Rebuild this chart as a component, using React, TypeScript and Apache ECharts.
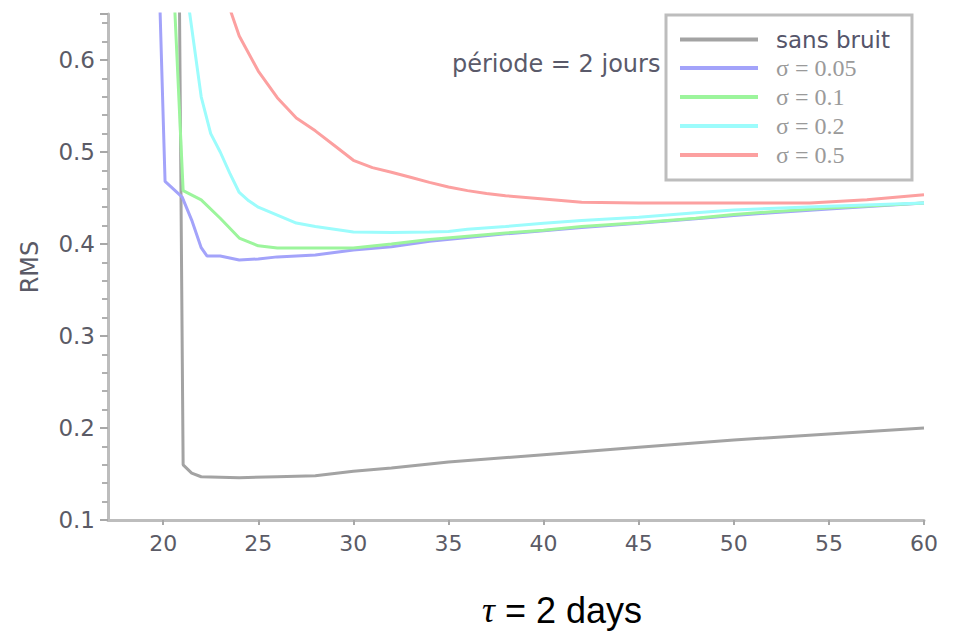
import React, { useEffect, useRef } from "react";
import * as echarts from "echarts";

// ---- data ----
const seriesNames = ["sans bruit", "σ = 0.05", "σ = 0.1", "σ = 0.2", "σ = 0.5"];
const seriesColors = ["#a3a3a3", "#a3a3fa", "#9cf59c", "#9cfcfc", "#fca0a0"];

const tauSansBruit = [20.85, 21.05, 21.5, 22, 24, 26, 28, 30, 32, 35, 40, 45, 50, 55, 60];
const rmsSansBruit = [0.68, 0.16, 0.151, 0.147, 0.146, 0.147, 0.148, 0.153, 0.1565, 0.163, 0.171, 0.179, 0.187, 0.1935, 0.2];

const tauSigma005 = [19.7, 20.1, 21, 21.5, 22, 22.3, 23, 24, 25, 26, 28, 30, 32, 34, 36, 38, 40, 42, 45, 48, 50, 52, 55, 60];
const rmsSigma005 = [0.75, 0.468, 0.451, 0.426, 0.396, 0.387, 0.387, 0.3826, 0.3837, 0.386, 0.388, 0.3935, 0.397, 0.403, 0.407, 0.411, 0.4145, 0.418, 0.4225, 0.4275, 0.431, 0.434, 0.438, 0.4446];

const tauSigma01 = [20.4, 21.05, 22, 23, 24, 25, 26, 28, 30, 32, 34, 36, 38, 40, 42, 45, 48, 50, 52, 55, 60];
const rmsSigma01 = [0.75, 0.458, 0.448, 0.428, 0.4065, 0.398, 0.3957, 0.3957, 0.3957, 0.4, 0.405, 0.4085, 0.412, 0.415, 0.419, 0.423, 0.428, 0.432, 0.435, 0.439, 0.4446];

const tauSigma02 = [21, 22, 22.5, 23, 23.5, 24, 24.5, 25, 26, 27, 28, 29, 30, 32, 34, 35, 36, 38, 40, 42, 45, 48, 50, 55, 60];
const rmsSigma02 = [0.71, 0.56, 0.52, 0.5, 0.477, 0.456, 0.447, 0.44, 0.4315, 0.4228, 0.419, 0.416, 0.413, 0.4125, 0.413, 0.4135, 0.416, 0.419, 0.4225, 0.4255, 0.429, 0.434, 0.437, 0.441, 0.4446];

const tauSigma05 = [23, 24, 25, 26, 27, 28, 29, 30, 31, 32, 33, 34, 35, 36, 37, 38, 40, 42, 45, 50, 54, 57, 60];
const rmsSigma05 = [0.686, 0.626, 0.588, 0.559, 0.537, 0.523, 0.507, 0.491, 0.483, 0.478, 0.4725, 0.467, 0.462, 0.458, 0.455, 0.4525, 0.449, 0.4455, 0.4446, 0.4446, 0.4446, 0.448, 0.4535];

const xTicks = [20, 25, 30, 35, 40, 45, 50, 55, 60];
const yTicks = [0.1, 0.2, 0.3, 0.4, 0.5, 0.6];

const annotationText = "période = 2 jours";
const bottomTitle = "{t|τ} = 2 days";
const yAxisName = "RMS";

const allTau = [tauSansBruit, tauSigma005, tauSigma01, tauSigma02, tauSigma05];
const allRms = [rmsSansBruit, rmsSigma005, rmsSigma01, rmsSigma02, rmsSigma05];

export default function App() {
  const ref = useRef<HTMLDivElement>(null);

  useEffect(() => {
    if (!ref.current) return;
    const chart = echarts.init(ref.current, undefined, { renderer: "svg" });

    const series = seriesNames.map((name, i) => ({
      name,
      type: "line",
      data: allTau[i].map((t, k) => [t, allRms[i][k]]),
      showSymbol: false,
      symbol: "none",
      clip: true,
      lineStyle: { color: seriesColors[i], width: 3 },
      itemStyle: { color: seriesColors[i] },
      z: 2 + i,
    }));

    const axisGray = "#bdbdbd";
    const labelColor = "#5b5b66";

    chart.setOption({
      animation: false,
      backgroundColor: "#ffffff",
      title: {
        text: bottomTitle,
        left: 482,
        top: 592,
        padding: 0,
        textStyle: {
          fontFamily: "Liberation Sans",
          fontWeight: "normal",
          fontSize: 36,
          color: "#000",
          rich: {
            t: { fontFamily: "Liberation Serif", fontStyle: "italic", fontSize: 36, color: "#000" },
          },
        },
      },
      grid: { left: 108, right: 35, top: 14, bottom: 114, containLabel: false },
      xAxis: {
        type: "value",
        min: 17.1,
        max: 60,
        minInterval: 5,
        maxInterval: 5,
        axisLine: { show: true, onZero: false, lineStyle: { color: axisGray, width: 3 } },
        axisTick: { show: true, inside: false, length: 5, lineStyle: { color: "#a8a8a8", width: 2 } },
        axisLabel: {
          showMinLabel: false,
          margin: 12,
          fontFamily: "DejaVu Sans",
          fontSize: 22,
          color: labelColor,
          formatter: (v: number) => (xTicks.includes(v) ? String(v) : ""),
        },
        splitLine: { show: false },
      },
      yAxis: {
        type: "value",
        min: 0.1,
        max: 0.65,
        minInterval: 0.1,
        maxInterval: 0.1,
        name: yAxisName,
        nameLocation: "middle",
        nameGap: 66,
        nameRotate: 90,
        nameTextStyle: { fontFamily: "DejaVu Sans", fontSize: 24, color: "#5a5a66" },
        axisLine: { show: true, onZero: false, lineStyle: { color: axisGray, width: 3 } },
        axisTick: { show: true, inside: false, length: 8, lineStyle: { color: "#a8a8a8", width: 2 } },
        minorTick: { show: true, splitNumber: 5, length: 6, lineStyle: { color: "#b0b0b0", width: 2 } },
        axisLabel: {
          showMaxLabel: false,
          margin: 13,
          fontFamily: "DejaVu Sans",
          fontSize: 23,
          color: labelColor,
          formatter: (v: number) => {
            const r = Math.round(v * 10) / 10;
            return yTicks.includes(r) && Math.abs(r - v) < 1e-6 ? r.toFixed(1) : "";
          },
        },
        splitLine: { show: false },
      },
      legend: {
        orient: "vertical",
        left: 666,
        top: 15,
        padding: [13, 22, 13, 14],
        itemGap: 5,
        itemWidth: 78,
        itemHeight: 4,
        icon: "rect",
        borderColor: "#bdbdbd",
        borderWidth: 3,
        backgroundColor: "#ffffff",
        z: 10,
        textStyle: { fontSize: 23, lineHeight: 22, padding: [0, 0, 0, 13] },
        data: seriesNames.map((n, i) => ({
          name: n,
          textStyle:
            i === 0
              ? { fontFamily: "DejaVu Sans", fontSize: 23, lineHeight: 22, color: "#55556a", padding: [0, 0, 0, 13] }
              : { fontFamily: "Liberation Serif", fontSize: 24, lineHeight: 22, color: "#9a9a9a", padding: [0, 0, 0, 13] },
        })),
      },
      graphic: [
        {
          type: "text",
          left: 452,
          top: 52,
          z: 1,
          style: {
            text: annotationText,
            fontFamily: "DejaVu Sans",
            fontSize: 24,
            fill: "#5a5a6a",
          },
        },
      ],
      series,
    });

    return () => chart.dispose();
  }, []);

  return (
    <div
      ref={ref}
      style={{ position: "fixed", left: 0, top: 0, width: 959, height: 634, background: "#fff" }}
    />
  );
}
